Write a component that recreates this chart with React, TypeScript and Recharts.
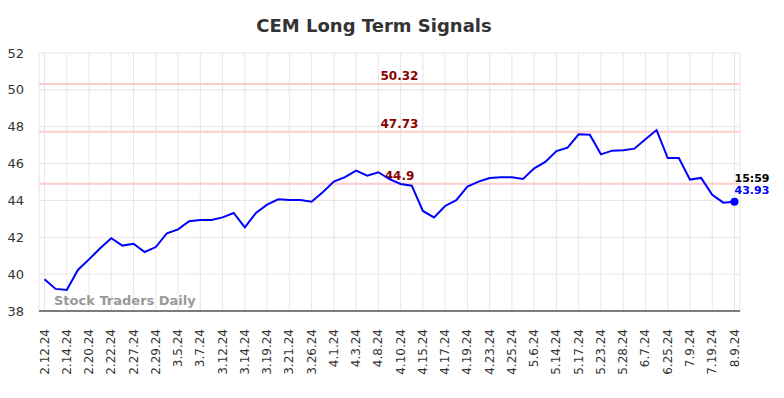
import React from "react";
import {
  LineChart,
  Line,
  XAxis,
  YAxis,
  CartesianGrid,
  ReferenceLine,
} from "recharts";

// trading dates, one per point (every second one is shown on the axis)
const dates = [
  "2.12.24", "2.13.24", "2.14.24", "2.16.24", "2.20.24", "2.21.24", "2.22.24", "2.26.24",
  "2.27.24", "2.28.24", "2.29.24", "3.4.24", "3.5.24", "3.6.24", "3.7.24", "3.11.24",
  "3.12.24", "3.13.24", "3.14.24", "3.18.24", "3.19.24", "3.20.24", "3.21.24", "3.25.24",
  "3.26.24", "3.28.24", "4.1.24", "4.2.24", "4.3.24", "4.5.24", "4.8.24", "4.9.24",
  "4.10.24", "4.12.24", "4.15.24", "4.16.24", "4.17.24", "4.18.24", "4.19.24", "4.22.24",
  "4.23.24", "4.24.24", "4.25.24", "5.1.24", "5.6.24", "5.9.24", "5.14.24", "5.16.24",
  "5.17.24", "5.21.24", "5.23.24", "5.24.24", "5.28.24", "6.3.24", "6.7.24", "6.17.24",
  "6.25.24", "7.2.24", "7.9.24", "7.16.24", "7.19.24", "7.30.24", "8.9.24",
];

const prices = [
  39.72, 39.2, 39.14, 40.23, 40.8, 41.4, 41.95, 41.55,
  41.65, 41.2, 41.47, 42.22, 42.43, 42.87, 42.94, 42.94,
  43.08, 43.32, 42.54, 43.32, 43.77, 44.06, 44.02, 44.02,
  43.93, 44.44, 45.02, 45.26, 45.62, 45.34, 45.53, 45.15,
  44.89, 44.8, 43.43, 43.08, 43.7, 44.01, 44.75, 45.02,
  45.22, 45.26, 45.26, 45.16, 45.74, 46.09, 46.68, 46.86,
  47.59, 47.57, 46.5, 46.7, 46.72, 46.81, 47.32, 47.82,
  46.3, 46.3, 45.13, 45.22, 44.31, 43.88, 43.93,
];

const tickDates = [
  "2.12.24", "2.14.24", "2.20.24", "2.22.24", "2.27.24", "2.29.24", "3.5.24", "3.7.24",
  "3.12.24", "3.14.24", "3.19.24", "3.21.24", "3.26.24", "4.1.24", "4.3.24", "4.8.24",
  "4.10.24", "4.15.24", "4.17.24", "4.19.24", "4.23.24", "4.25.24", "5.6.24", "5.14.24",
  "5.17.24", "5.23.24", "5.28.24", "6.7.24", "6.25.24", "7.9.24", "7.19.24", "8.9.24",
];

const yTicks = [38, 40, 42, 44, 46, 48, 50, 52];
const signals = [50.32, 47.73, 44.9];
const lastTime = "15:59";

const data = dates.map((d, i) => ({ date: d, price: prices[i] }));
const lastIndex = data.length - 1;

const font = "DejaVu Sans, sans-serif";

function DateTick(props: any) {
  const { x, payload } = props;
  return (
    <text
      transform={`translate(${x + 4},329) rotate(-90)`}
      textAnchor="end"
      fontSize={12}
      fontFamily={font}
      fill="#333"
    >
      {payload.value}
    </text>
  );
}

function signalLabel(value: number) {
  return (props: any) => {
    const vb = props.viewBox;
    return (
      <text
        x={vb.x + vb.width / 2 + 10}
        y={vb.y - 4}
        textAnchor="middle"
        fontSize={12}
        fontWeight="bold"
        fontFamily={font}
        fill="#8b0000"
      >
        {value}
      </text>
    );
  };
}

function LastDot(props: any) {
  const { cx, cy, index } = props;
  if (index !== lastIndex) return null;
  return <circle cx={cx} cy={cy} r={4} fill="#0000ff" stroke="none" />;
}

function LastLabel(props: any) {
  const { x, y, index, value } = props;
  if (index !== lastIndex) return null;
  return (
    <g fontFamily={font} fontSize={11} fontWeight="bold">
      <text x={x} y={y - 20} fill="#000">
        {lastTime}
      </text>
      <text x={x} y={y - 8} fill="#0000ff">
        {value}
      </text>
    </g>
  );
}

export default function App() {
  return (
    <div style={{ position: "absolute", left: 0, top: 0, width: 784, height: 398 }}>
      <div
        style={{
          position: "absolute",
          top: 15,
          left: 0,
          width: 748,
          textAlign: "center",
          fontFamily: font,
          fontWeight: "bold",
          fontSize: 18,
          color: "#333",
        }}
      >
        CEM Long Term Signals
      </div>
      <LineChart
        width={784}
        height={398}
        data={data}
        margin={{ top: 53, right: 44, bottom: 0, left: 0 }}
      >
        <CartesianGrid stroke="#e6e6e6" strokeWidth={1} />
        <XAxis
          dataKey="date"
          ticks={tickDates}
          interval={0}
          padding={{ left: 5.5, right: 5.5 }}
          tickLine={false}
          axisLine={{ stroke: "#555", strokeWidth: 1.5 }}
          tick={<DateTick />}
          height={87}
        />
        <YAxis
          domain={[38, 52]}
          ticks={yTicks}
          width={39}
          axisLine={false}
          tickLine={false}
          tickMargin={9}
          tick={{ fontSize: 13, fontFamily: font, fill: "#333" }}
        />
        {signals.map((s) => (
          <ReferenceLine
            key={s}
            y={s}
            stroke="#ffcccc"
            strokeWidth={2}
            label={signalLabel(s)}
          />
        ))}
        <Line
          type="linear"
          dataKey="price"
          stroke="#0000ff"
          strokeWidth={2}
          dot={<LastDot />}
          activeDot={false}
          label={<LastLabel />}
          isAnimationActive={false}
        />
      </LineChart>
      <div
        style={{
          position: "absolute",
          left: 54,
          top: 293,
          fontFamily: font,
          fontWeight: "bold",
          fontSize: 13,
          color: "#999",
        }}
      >
        Stock Traders Daily
      </div>
    </div>
  );
}
